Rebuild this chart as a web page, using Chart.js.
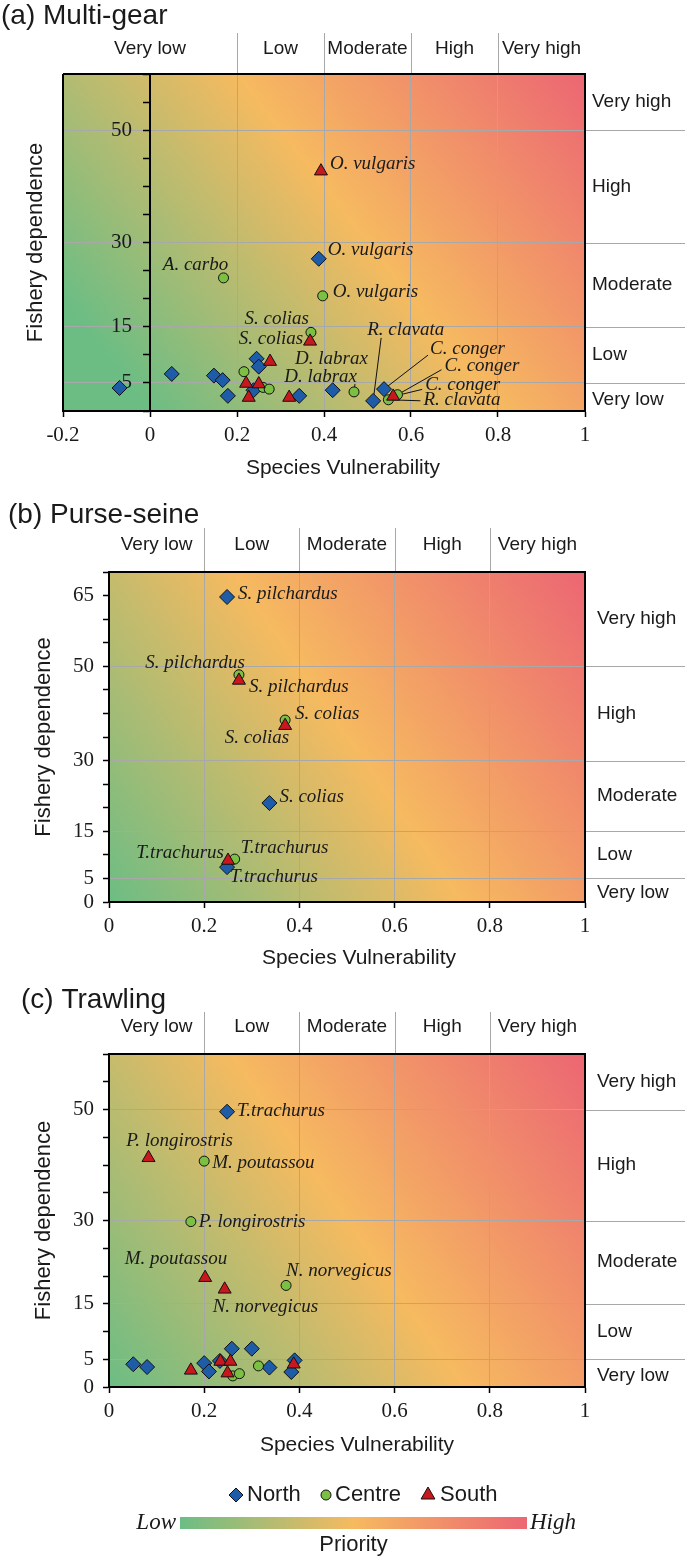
<!DOCTYPE html>
<html>
<head>
<meta charset="utf-8">
<title>Fishery priority</title>
<script src="https://cdn.jsdelivr.net/npm/chart.js@4.4.1/dist/chart.umd.min.js"></script>
<style>
  html, body { margin: 0; padding: 0; background: #fff; }
  #wrap { position: relative; width: 685px; height: 1560px; overflow: hidden; }
  canvas { position: absolute; left: 0; }
</style>
</head>
<body>
<div id="wrap">
  <canvas id="panel-a" width="685" height="480" style="top:0"></canvas>
  <canvas id="panel-b" width="685" height="490" style="top:480px"></canvas>
  <canvas id="panel-c" width="685" height="590" style="top:970px"></canvas>
</div>
<script>
/* Priority matrix — species vulnerability vs fishery dependence, three gears */

const priorityBands = ['Very low', 'Low', 'Moderate', 'High', 'Very high'];
const vulnBreaks    = [0.2, 0.4, 0.6, 0.8];
const depBreaks     = [5, 15, 30, 50];
const regions       = ['North', 'Centre', 'South'];

// (a) Multi-gear
const aNorthX     = [-0.07, 0.05, 0.147, 0.167, 0.179, 0.238, 0.245, 0.25, 0.343, 0.388, 0.42, 0.513, 0.538];
const aNorthY     = [4.1, 6.6, 6.3, 5.5, 2.7, 3.7, 9.3, 7.9, 2.7, 27.1, 3.7, 1.8, 3.9];
const aNorthNames = ['', '', '', '', '', '', '', '', '', 'O. vulgaris', '', 'R. clavata', 'C. conger'];
const aCentreX     = [0.169, 0.216, 0.26, 0.274, 0.37, 0.397, 0.469, 0.548, 0.569];
const aCentreY     = [23.7, 7.0, 4.2, 3.9, 14.0, 20.5, 3.4, 2.0, 2.9];
const aCentreNames = ['A. carbo', '', '', '', 'S. colias', 'O. vulgaris', 'D. labrax', 'R. clavata', 'C. conger'];
const aSouthX     = [0.221, 0.227, 0.25, 0.276, 0.32, 0.368, 0.393, 0.559];
const aSouthY     = [4.9, 2.4, 4.8, 8.8, 2.4, 12.4, 42.7, 2.6];
const aSouthNames = ['', '', '', 'D. labrax', '', 'S. colias', 'O. vulgaris', 'C. conger'];

// (b) Purse-seine
const bNorthX     = [0.248, 0.337, 0.248];
const bNorthY     = [64.7, 21.0, 7.4];
const bNorthNames = ['S. pilchardus', 'S. colias', 'T.trachurus'];
const bCentreX     = [0.273, 0.37, 0.264];
const bCentreY     = [48.2, 38.6, 9.1];
const bCentreNames = ['S. pilchardus', 'S. colias', 'T.trachurus'];
const bSouthX     = [0.273, 0.37, 0.25];
const bSouthY     = [47.0, 37.4, 8.8];
const bSouthNames = ['S. pilchardus', 'S. colias', 'T.trachurus'];

// (c) Trawling
const cNorthX     = [0.248, 0.051, 0.08, 0.2, 0.21, 0.233, 0.258, 0.3, 0.337, 0.39, 0.383];
const cNorthY     = [49.6, 4.1, 3.6, 4.3, 2.8, 4.7, 6.9, 6.9, 3.5, 4.8, 2.7];
const cNorthNames = ['T.trachurus', '', '', '', '', '', '', '', '', '', ''];
const cCentreX     = [0.2, 0.172, 0.372, 0.26, 0.274, 0.314];
const cCentreY     = [40.7, 29.8, 18.3, 2.0, 2.4, 3.8];
const cCentreNames = ['M. poutassou', 'P. longirostris', 'N. norvegicus', '', '', ''];
const cSouthX     = [0.083, 0.202, 0.243, 0.172, 0.234, 0.255, 0.249, 0.388];
const cSouthY     = [41.3, 19.7, 17.6, 3.0, 4.6, 4.6, 2.5, 4.1];
const cSouthNames = ['P. longirostris', 'M. poutassou', 'N. norvegicus', '', '', '', '', ''];

// where each species name sits, relative to its marker (px)
const aSpots = {
  'North:9':   { dx: 9,   dy: -9 },
  'North:11':  { dx: -6,  dy: -71, lead: [14, 8] },
  'North:12':  { dx: 46,  dy: -40, lead: [-2, 6] },
  'Centre:0':  { dx: -28, dy: -13, align: 'center' },
  'Centre:4':  { dx: -2,  dy: -13, align: 'right' },
  'Centre:5':  { dx: 10,  dy: -4 },
  'Centre:6':  { dx: 3,   dy: -15, align: 'right', lead: [-2, 7] },
  'Centre:7':  { dx: 35,  dy: 0,   lead: [-3, 1] },
  'Centre:8':  { dx: 47,  dy: -29, lead: [-3, 4] },
  'South:3':   { dx: 25,  dy: -3 },
  'South:5':   { dx: -7,  dy: -2,  align: 'right' },
  'South:6':   { dx: 9,   dy: -7 },
  'South:7':   { dx: 32,  dy: -11, lead: [-3, 4] },
};
const bSpots = {
  'North:0':  { dx: 11, dy: -3 },
  'North:1':  { dx: 10, dy: -6 },
  'North:2':  { dx: 3,  dy: 10 },
  'Centre:0': { dx: 6,  dy: -12, align: 'right' },
  'Centre:1': { dx: 10, dy: -6 },
  'Centre:2': { dx: 6,  dy: -11 },
  'South:0':  { dx: 10, dy: 7 },
  'South:1':  { dx: 4,  dy: 12, align: 'right' },
  'South:2':  { dx: -4, dy: -8, align: 'right' },
};
const cSpots = {
  'North:0':  { dx: 10,  dy: -1 },
  'Centre:0': { dx: 8,   dy: 2 },
  'Centre:1': { dx: 8,   dy: 0 },
  'Centre:2': { dx: 0,   dy: -14 },
  'South:0':  { dx: 31,  dy: -17, align: 'center' },
  'South:1':  { dx: 22,  dy: -19, align: 'right' },
  'South:2':  { dx: -12, dy: 18 },
};

const SANS  = '"Liberation Sans", Arial, sans-serif';
const SERIF = '"Liberation Serif", "Times New Roman", serif';
const GREY  = '#a8a8a8';
const INK   = '#1a1a1a';

const markerStyle = {
  North:  { pointStyle: 'rectRot',  radius: 7.5, color: '#1e5ca8' },
  Centre: { pointStyle: 'circle',   radius: 5,   color: '#7cc043' },
  South:  { pointStyle: 'triangle', radius: 7.5, color: '#c8181e' },
};

function priorityGradient(ctx, x0, y0, x1, y1) {
  const g = ctx.createLinearGradient(x0, y0, x1, y1);
  g.addColorStop(0,   '#6cbd84');
  g.addColorStop(0.5, '#f6ba60');
  g.addColorStop(1,   '#ec6673');
  return g;
}

const near = (v, list) => list.some(b => Math.abs(v - b) < 1e-6);

function makeSet(region, xs, ys, names, order) {
  const st = markerStyle[region];
  return {
    label: region,
    names,
    order,
    data: xs.map((x, i) => ({ x, y: ys[i] })),
    pointStyle: st.pointStyle,
    pointRadius: st.radius,
    pointBackgroundColor: st.color,
    pointBorderColor: '#111',
    pointBorderWidth: 1,
    showLine: false,
  };
}

function xAxis(min) {
  return {
    type: 'linear', min, max: 1,
    ticks: {
      stepSize: 0.2, autoSkip: false, maxRotation: 0, padding: 6, color: INK,
      font: { family: SERIF, size: 21 },
      callback: v => String(Math.round(v * 10) / 10),
    },
    grid: {
      color: c => (c.tick && near(c.tick.value, vulnBreaks)) ? GREY : 'rgba(0,0,0,0)',
      tickColor: '#000', tickLength: 6, tickWidth: 1.5, lineWidth: 1,
    },
    border: { color: '#000', width: 2 },
    afterFit: s => { s.height = 40; },
  };
}

function yAxis(max, shown, position, labelShift) {
  return {
    type: 'linear', min: 0, max, position,
    ticks: {
      stepSize: 5, autoSkip: false, padding: 9, color: INK,
      font: { family: SERIF, size: 21 },
      callback: v => shown.includes(v) ? String(v) : '',
    },
    grid: {
      color: c => (c.tick && near(c.tick.value, depBreaks)) ? GREY : 'rgba(0,0,0,0)',
      tickColor: '#000', tickLength: 6, tickWidth: 1.5, lineWidth: 1,
    },
    border: { color: '#000', width: 2 },
    afterFit: s => { s.width = 46; },
    // an axis pinned at x = 0 puts its labels flush on the line; push them clear of the ticks
    afterUpdate: s => {
      if (!labelShift || s._shifted) return;
      const base = s._computeLabelItems;
      s._computeLabelItems = function (area) {
        const items = base.call(this, area);
        items.forEach(it => { it.options.translation[0] -= labelShift; });
        return items;
      };
      s._shifted = true;
    },
  };
}

// background, frame, band labels, names, legend
const decor = {
  id: 'decor',
  beforeDraw(chart, args, o) {
    const { ctx, chartArea: a, scales } = chart;
    ctx.save();
    ctx.fillStyle = priorityGradient(ctx, scales.x.getPixelForValue(0), a.bottom, a.right, a.top);
    ctx.fillRect(a.left, a.top, a.right - a.left, a.bottom - a.top);
    ctx.restore();
  },
  beforeDatasetsDraw(chart, args, o) {
    const ctx = chart.ctx;
    ctx.save();
    ctx.strokeStyle = '#111';
    ctx.lineWidth = 1;
    chart.data.datasets.forEach((ds, di) => {
      const meta = chart.getDatasetMeta(di);
      ds.names.forEach((name, i) => {
        const spot = o.spots[ds.label + ':' + i];
        if (!name || !spot || !spot.lead) return;
        const el = meta.data[i];
        ctx.beginPath();
        ctx.moveTo(el.x + spot.dx + spot.lead[0], el.y + spot.dy + spot.lead[1]);
        ctx.lineTo(el.x, el.y);
        ctx.stroke();
      });
    });
    ctx.restore();
  },
  afterDraw(chart, args, o) {
    const { ctx, chartArea: a, scales } = chart;
    const W = chart.width;
    ctx.save();

    // band separators outside the plot
    ctx.strokeStyle = GREY;
    ctx.lineWidth = 1;
    vulnBreaks.forEach(v => {
      const px = Math.round(scales.x.getPixelForValue(v)) + 0.5;
      ctx.beginPath(); ctx.moveTo(px, o.sepTop); ctx.lineTo(px, a.top); ctx.stroke();
    });
    depBreaks.forEach(v => {
      const py = Math.round(scales.y.getPixelForValue(v)) + 0.5;
      ctx.beginPath(); ctx.moveTo(a.right, py); ctx.lineTo(W, py); ctx.stroke();
    });

    // frame
    ctx.strokeStyle = '#000';
    ctx.lineWidth = 2;
    ctx.beginPath();
    ctx.moveTo(a.left, a.top); ctx.lineTo(a.right, a.top); ctx.lineTo(a.right, a.bottom);
    if (o.leftFrame) { ctx.moveTo(a.left, a.top); ctx.lineTo(a.left, a.bottom); }
    ctx.stroke();

    // band labels
    ctx.fillStyle = INK;
    ctx.font = '19px ' + SANS;
    ctx.textBaseline = 'middle';
    ctx.textAlign = 'center';
    const xe = [a.left, ...vulnBreaks.map(v => scales.x.getPixelForValue(v)), a.right];
    priorityBands.forEach((t, i) => ctx.fillText(t, (xe[i] + xe[i + 1]) / 2, o.bandY));
    ctx.textAlign = 'left';
    const ye = [a.bottom, ...depBreaks.map(v => scales.y.getPixelForValue(v)), a.top];
    priorityBands.forEach((t, i) => ctx.fillText(t, o.rightX, (ye[i] + ye[i + 1]) / 2 + (i === 0 ? 3 : 0)));

    // titles
    ctx.font = '28px ' + SANS;
    ctx.textAlign = 'left';
    ctx.fillText(o.title, o.titleX, o.titleY);
    ctx.font = '21px ' + SANS;
    ctx.textAlign = 'center';
    ctx.fillText('Species Vulnerability', o.xTitleX, o.xTitleY);
    ctx.save();
    ctx.translate(o.yTitleX, (a.top + a.bottom) / 2);
    ctx.rotate(-Math.PI / 2);
    ctx.font = '22px ' + SANS;
    ctx.fillText('Fishery dependence', 0, 0);
    ctx.restore();

    // species names
    ctx.font = 'italic 19px ' + SERIF;
    chart.data.datasets.forEach((ds, di) => {
      const meta = chart.getDatasetMeta(di);
      ds.names.forEach((name, i) => {
        if (!name) return;
        const el = meta.data[i];
        const spot = o.spots[ds.label + ':' + i] || { dx: 8, dy: 0 };
        ctx.textAlign = spot.align || 'left';
        ctx.fillText(name, el.x + spot.dx, el.y + spot.dy);
      });
    });

    if (o.legend) drawLegend(ctx, o.legend);
    ctx.restore();
  },
};

function drawLegend(ctx, L) {
  const spots = { North: L.northX, Centre: L.centreX, South: L.southX };
  ctx.font = '22px ' + SANS;
  ctx.textAlign = 'left';
  ctx.textBaseline = 'middle';
  regions.forEach(r => {
    const st = markerStyle[r];
    ctx.fillStyle = st.color;
    ctx.strokeStyle = '#111';
    ctx.lineWidth = 1;
    const rad = r === 'South' ? 8 : (r === 'North' ? 7 : 5);
    Chart.helpers.drawPoint(ctx, { pointStyle: st.pointStyle, radius: rad, borderWidth: 1, rotation: 0 }, spots[r], L.y);
    ctx.fillStyle = INK;
    ctx.fillText(r, spots[r] + rad + 4, L.y);
  });

  ctx.fillStyle = priorityGradient(ctx, L.barLeft, 0, L.barRight, 0);
  ctx.fillRect(L.barLeft, L.barTop, L.barRight - L.barLeft, L.barH);
  ctx.fillStyle = INK;
  ctx.font = 'italic 23px ' + SERIF;
  ctx.textAlign = 'right';
  ctx.fillText('Low', L.barLeft - 4, L.barTop + L.barH / 2);
  ctx.textAlign = 'left';
  ctx.fillText('High', L.barRight + 3, L.barTop + L.barH / 2);
  ctx.font = '22px ' + SANS;
  ctx.textAlign = 'center';
  ctx.fillText('Priority', (L.barLeft + L.barRight) / 2, L.priorityY);
}

function panel(id, sets, xMin, yAxisOpts, padding, deco) {
  return new Chart(document.getElementById(id), {
    type: 'scatter',
    data: { datasets: sets },
    options: {
      responsive: false,
      animation: false,
      events: [],
      layout: { padding },
      plugins: { legend: { display: false }, tooltip: { enabled: false }, decor: deco },
      scales: { x: xAxis(xMin), y: yAxisOpts },
    },
    plugins: [decor],
  });
}

panel('panel-a', [
  makeSet('North',  aNorthX,  aNorthY,  aNorthNames,  3),
  makeSet('Centre', aCentreX, aCentreY, aCentreNames, 2),
  makeSet('South',  aSouthX,  aSouthY,  aSouthNames,  1),
], -0.2, yAxis(60, [5, 15, 30, 50], { x: 0 }, 18),
  { left: 63, top: 74, right: 100, bottom: 29 },
  { title: '(a) Multi-gear', titleX: 1, titleY: 16, sepTop: 33, bandY: 49, rightX: 592,
    xTitleX: 343, xTitleY: 468, yTitleX: 36, leftFrame: true, spots: aSpots });

panel('panel-b', [
  makeSet('North',  bNorthX,  bNorthY,  bNorthNames,  3),
  makeSet('Centre', bCentreX, bCentreY, bCentreNames, 2),
  makeSet('South',  bSouthX,  bSouthY,  bSouthNames,  1),
], 0, yAxis(70, [0, 5, 15, 30, 50, 65], 'left', 0),
  { left: 63, top: 92, right: 100, bottom: 28 },
  { title: '(b) Purse-seine', titleX: 8, titleY: 35, sepTop: 48, bandY: 65, rightX: 597,
    xTitleX: 359, xTitleY: 478, yTitleX: 44, spots: bSpots });

panel('panel-c', [
  makeSet('North',  cNorthX,  cNorthY,  cNorthNames,  3),
  makeSet('Centre', cCentreX, cCentreY, cCentreNames, 2),
  makeSet('South',  cSouthX,  cSouthY,  cSouthNames,  1),
], 0, yAxis(60, [0, 5, 15, 30, 50], 'left', 0),
  { left: 63, top: 84, right: 100, bottom: 133 },
  { title: '(c) Trawling', titleX: 21, titleY: 30, sepTop: 42, bandY: 57, rightX: 597,
    xTitleX: 357, xTitleY: 475, yTitleX: 44, spots: cSpots,
    legend: { y: 525, northX: 236, centreX: 326, southX: 428,
              barLeft: 180, barRight: 527, barTop: 547, barH: 12, priorityY: 575 } });
</script>
</body>
</html>
